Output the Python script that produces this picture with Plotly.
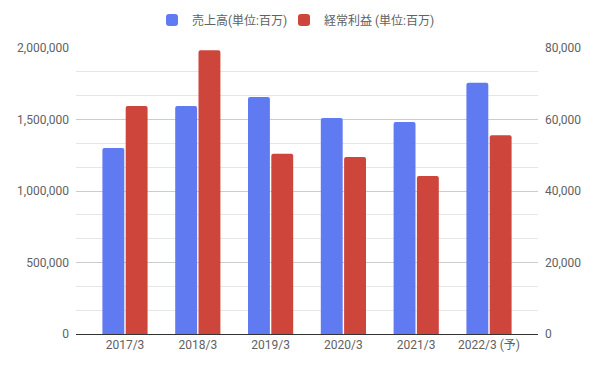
import plotly.graph_objects as go

categories = ["2017/3", "2018/3", "2019/3", "2020/3", "2021/3", "2022/3 (予)"]
sales = [1300000, 1594000, 1657000, 1510000, 1482000, 1757000]
profit = [63800, 79400, 50400, 49500, 44200, 55600]
left_ticks = [0, 500000, 1000000, 1500000, 2000000]
right_ticks = [0, 20000, 40000, 60000, 80000]

FONT = "Roboto, 'Noto Sans CJK JP', sans-serif"
TICK_COLOR = "#616161"

fig = go.Figure()
fig.add_trace(go.Bar(
    x=categories, y=sales, name="売上高(単位:百万)",
    marker=dict(color="#607BF2", line=dict(width=0)),
    offsetgroup="a", yaxis="y", legend="legend",
))
fig.add_trace(go.Bar(
    x=categories, y=profit, name="経常利益 (単位:百万)",
    marker=dict(color="#CE453B", line=dict(width=0)),
    offsetgroup="b", yaxis="y2", legend="legend2",
))

legend_common = dict(
    orientation="h", xref="container", yref="container",
    xanchor="left", y=1 - 12 / 369, yanchor="middle",
    font=dict(size=12, color="#616161"), itemwidth=30,
    bgcolor="rgba(0,0,0,0)",
)

fig.update_layout(
    width=597, height=369,
    margin=dict(l=68, r=67, t=40, b=43, autoexpand=False),
    paper_bgcolor="white", plot_bgcolor="white",
    font=dict(family=FONT, size=12, color=TICK_COLOR),
    barmode="group", bargap=0.36, bargroupgap=0.06,
    barcornerradius=2,
    showlegend=True,
    legend=dict(x=144 / 597, **legend_common),
    legend2=dict(x=276 / 597, **legend_common),
    xaxis=dict(
        range=[-0.673, 5.673], showgrid=False, ticks="",
        showline=True, linecolor="#333333", linewidth=1,
        tickfont=dict(size=12, color=TICK_COLOR),
        zeroline=False, automargin=False,
    ),
    yaxis=dict(
        range=[0, 2000000], tickvals=left_ticks,
        ticktext=[f"{v:,}" for v in left_ticks],
        showgrid=True, gridcolor="#cccccc", gridwidth=1,
        minor=dict(dtick=2000000 / 12, showgrid=True, gridcolor="#e6e6e6", gridwidth=1),
        zeroline=False, ticks="", ticklabelstandoff=6,
        tickfont=dict(size=12, color=TICK_COLOR), automargin=False,
    ),
    yaxis2=dict(
        range=[0, 80000], tickvals=right_ticks,
        ticktext=[f"{v:,}" for v in right_ticks],
        overlaying="y", side="right", showgrid=False,
        zeroline=False, ticks="", ticklabelstandoff=6,
        tickfont=dict(size=12, color=TICK_COLOR), automargin=False,
    ),
)

fig.write_html("out.html")
